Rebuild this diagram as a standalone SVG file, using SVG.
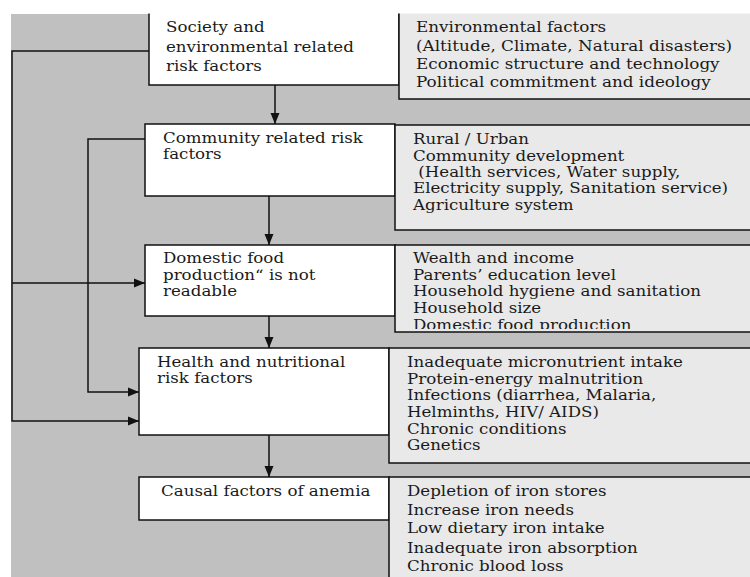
<svg xmlns="http://www.w3.org/2000/svg" width="750" height="577" viewBox="0 0 750 577">
<defs>
<style>
.bg{fill:#c0c0c0}
.main{fill:#ffffff;stroke:#111;stroke-width:1.5}
.side{fill:#e9e9e9;stroke:#111;stroke-width:1.5}
.t{font-family:"DejaVu Serif","Liberation Serif",serif;font-size:14px;fill:#1a1a1a}
.conn{fill:none;stroke:#111;stroke-width:1.5}
</style>
<marker id="ah" markerUnits="userSpaceOnUse" markerWidth="11" markerHeight="10" refX="11" refY="5" orient="auto">
<path d="M0,0.5 L11,5 L0,9.5 z" fill="#111"/>
</marker>
<clipPath id="clip3"><rect x="396" y="246" width="360" height="83"/></clipPath>
</defs>
<rect class="bg" x="11" y="14" width="745" height="570"/>

<g id="connectors">
<path class="conn" d="M275,85 V124" marker-end="url(#ah)"/>
<path class="conn" d="M269,196 V245" marker-end="url(#ah)"/>
<path class="conn" d="M269,316 V348" marker-end="url(#ah)"/>
<path class="conn" d="M269,435 V477" marker-end="url(#ah)"/>
<path class="conn" d="M149,51 H12 V421 H139" marker-end="url(#ah)"/>
<path class="conn" d="M12,283 H145" marker-end="url(#ah)"/>
<path class="conn" d="M145,139 H88 V392 H139" marker-end="url(#ah)"/>
</g>

<g id="society">
<rect class="main" x="149" y="4" width="250" height="81"/>
<g transform="translate(166,0) scale(1.19,1)"><text class="t"><tspan x="0" y="32">Society and</tspan><tspan x="0" y="52">environmental related</tspan><tspan x="0" y="71">risk factors</tspan></text></g>
</g>
<g id="society-factors">
<rect class="side" x="399" y="4" width="360" height="95"/>
<g transform="translate(416,0) scale(1.2,1)"><text class="t"><tspan x="0" y="32">Environmental factors</tspan><tspan x="0" y="51">(Altitude, Climate, Natural disasters)</tspan><tspan x="0" y="69">Economic structure and technology</tspan><tspan x="0" y="87">Political commitment and ideology</tspan></text></g>
</g>

<g id="community">
<rect class="main" x="145" y="124" width="250" height="72"/>
<g transform="translate(163,0) scale(1.19,1)"><text class="t"><tspan x="0" y="143">Community related risk</tspan><tspan x="0" y="159">factors</tspan></text></g>
</g>
<g id="community-factors">
<rect class="side" x="395" y="125" width="360" height="105"/>
<g transform="translate(413,0) scale(1.19,1)"><text class="t" xml:space="preserve"><tspan x="0" y="144">Rural / Urban</tspan><tspan x="0" y="161">Community development</tspan><tspan x="0" y="177"> (Health services, Water supply,</tspan><tspan x="0" y="193">Electricity supply, Sanitation service)</tspan><tspan x="0" y="210">Agriculture system</tspan></text></g>
</g>

<g id="domestic">
<rect class="main" x="145" y="245" width="250" height="71"/>
<g transform="translate(163,0) scale(1.19,1)"><text class="t"><tspan x="0" y="263">Domestic food</tspan><tspan x="0" y="280">production“ is not</tspan><tspan x="0" y="296">readable</tspan></text></g>
</g>
<g id="domestic-factors">
<rect class="side" x="395" y="245" width="360" height="87"/>
<g clip-path="url(#clip3)"><g transform="translate(413,0) scale(1.19,1)"><text class="t"><tspan x="0" y="263">Wealth and income</tspan><tspan x="0" y="280">Parents’ education level</tspan><tspan x="0" y="296">Household hygiene and sanitation</tspan><tspan x="0" y="313">Household size</tspan><tspan x="0" y="330">Domestic food production</tspan></text></g></g>
</g>

<g id="health">
<rect class="main" x="139" y="348" width="250" height="87"/>
<g transform="translate(157,0) scale(1.19,1)"><text class="t"><tspan x="0" y="367">Health and nutritional</tspan><tspan x="0" y="383">risk factors</tspan></text></g>
</g>
<g id="health-factors">
<rect class="side" x="389" y="348" width="366" height="115"/>
<g transform="translate(407,0) scale(1.19,1)"><text class="t"><tspan x="0" y="367">Inadequate micronutrient intake</tspan><tspan x="0" y="384">Protein-energy malnutrition</tspan><tspan x="0" y="400">Infections (diarrhea, Malaria,</tspan><tspan x="0" y="417">Helminths, HIV/ AIDS)</tspan><tspan x="0" y="434">Chronic conditions</tspan><tspan x="0" y="450">Genetics</tspan></text></g>
</g>

<g id="causal">
<rect class="main" x="139" y="477" width="250" height="43"/>
<g transform="translate(161,0) scale(1.19,1)"><text class="t"><tspan x="0" y="496">Causal factors of anemia</tspan></text></g>
</g>
<g id="causal-factors">
<rect class="side" x="389" y="477" width="366" height="110"/>
<g transform="translate(407,0) scale(1.19,1)"><text class="t"><tspan x="0" y="496">Depletion of iron stores</tspan><tspan x="0" y="515">Increase iron needs</tspan><tspan x="0" y="533">Low dietary iron intake</tspan><tspan x="0" y="553">Inadequate iron absorption</tspan><tspan x="0" y="571">Chronic blood loss</tspan></text></g>
</g>

<rect x="0" y="0" width="750" height="13.5" fill="#ffffff"/>
</svg>
